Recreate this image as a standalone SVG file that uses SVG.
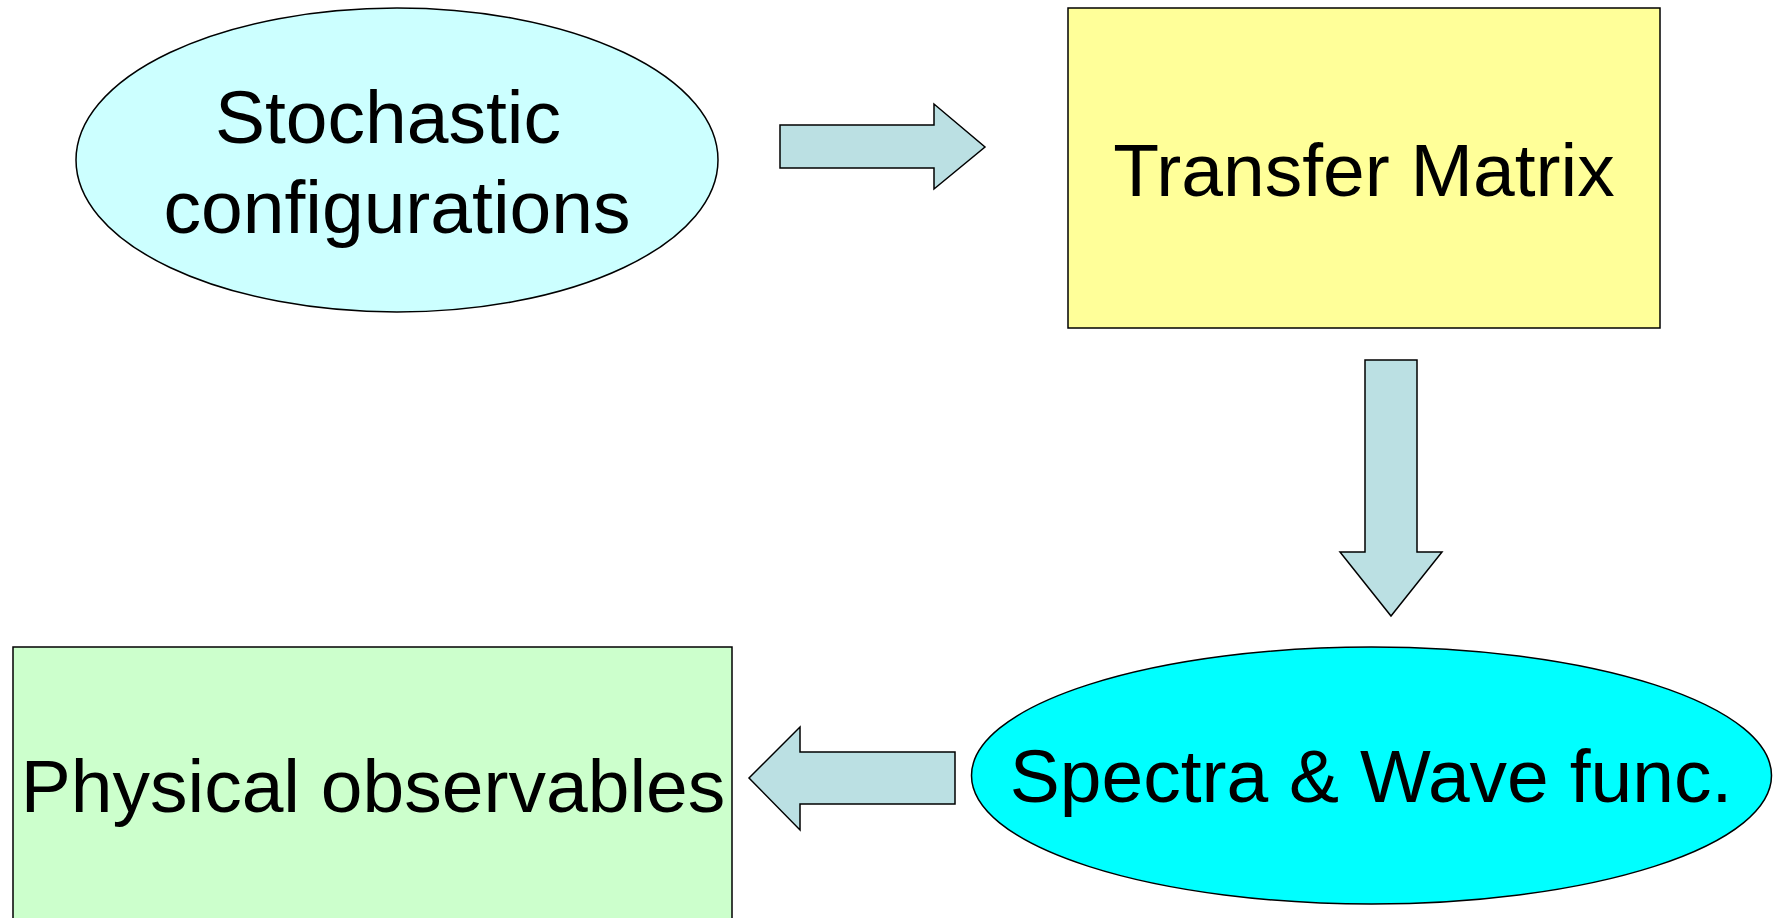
<svg xmlns="http://www.w3.org/2000/svg" width="1774" height="918" viewBox="0 0 1774 918">
<style>
.n{stroke:#000;stroke-width:1.5}
.t{font-family:"Liberation Sans",Arial,sans-serif;font-size:75px;fill:#000}
.a{fill:#BBE0E3;stroke:#000;stroke-width:1.5;stroke-linejoin:miter}
</style>
<rect width="1774" height="918" fill="#fff"/>
<g id="stochastic">
<ellipse class="n" cx="397" cy="160" rx="321" ry="152" fill="#CCFFFF"/>
<text class="t" x="215" y="143">Stochastic</text>
<text class="t" x="397" y="233" text-anchor="middle">configurations</text>
</g>
<g id="transfer">
<rect class="n" x="1068" y="8" width="592" height="320" fill="#FFFF99"/>
<text class="t" x="1364" y="196" text-anchor="middle">Transfer Matrix</text>
</g>
<g id="spectra">
<ellipse class="n" cx="1371.5" cy="775.5" rx="400" ry="128.5" fill="#00FFFF"/>
<text class="t" x="1371" y="802" text-anchor="middle">Spectra &amp; Wave func.</text>
</g>
<g id="physical">
<rect class="n" x="13" y="647" width="719" height="290" fill="#CCFFCC"/>
<text class="t" x="373" y="812" text-anchor="middle">Physical observables</text>
</g>
<g id="connectors">
<polygon class="a" points="780,125 934,125 934,104 985,147 934,189 934,168 780,168"/>
<polygon class="a" points="1365,360 1417,360 1417,552 1442,552 1391,616 1340,552 1365,552"/>
<polygon class="a" points="955,752 800,752 800,727 749,778 800,830 800,804 955,804"/>
</g>
</svg>
